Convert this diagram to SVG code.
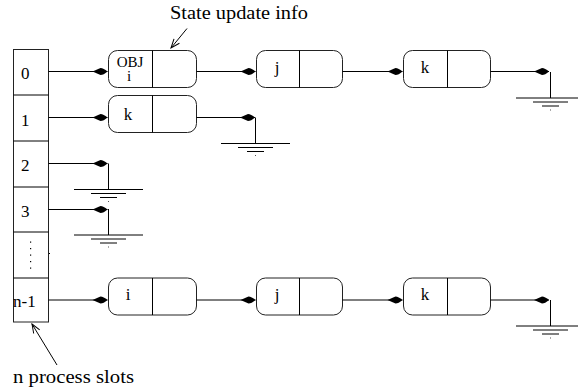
<svg xmlns="http://www.w3.org/2000/svg" width="578" height="390" viewBox="0 0 578 390">
<style>
.ln{stroke:#000;stroke-width:1;fill:none}
.bx{stroke:#222;stroke-width:1;fill:#fff}
.t{font-family:"Liberation Serif","Times New Roman",serif;fill:#000}
.lab{font-size:17px}
.ann{font-size:18px}
</style>
<defs>
<marker id="ah" markerUnits="userSpaceOnUse" viewBox="-16 -5 17 10" refX="0" refY="0" markerWidth="17" markerHeight="10" orient="auto">
<path d="M0,0 Q-4,-3.5 -7,-3.5 L-15,0 L-7,3.5 Q-4,3.5 0,0 Z" fill="#000"/>
</marker>
<marker id="open" markerUnits="userSpaceOnUse" viewBox="-10 -5 11 10" refX="0" refY="0" markerWidth="11" markerHeight="10" orient="auto">
<path d="M-9,-3.5 L0,0 L-9,3.5" fill="none" stroke="#000" stroke-width="1"/>
</marker>
<g id="gnd">
<line class="ln" x1="0" y1="0" x2="0" y2="26"/>
<line class="ln" x1="-34.5" y1="26" x2="34.5" y2="26"/>
<line class="ln" x1="-17.5" y1="30" x2="17.5" y2="30"/>
<line class="ln" x1="-8.5" y1="34" x2="8.5" y2="34"/>
<rect x="-0.5" y="37.5" width="1" height="1" fill="#555"/>
</g>
</defs>

<g id="slots">
<rect class="bx" x="13.5" y="49.5" width="35" height="272.5"/>
<line class="ln" x1="13.5" y1="95" x2="48.5" y2="95"/>
<line class="ln" x1="13.5" y1="141" x2="48.5" y2="141"/>
<line class="ln" x1="13.5" y1="187" x2="48.5" y2="187"/>
<line class="ln" x1="13.5" y1="232" x2="48.5" y2="232"/>
<line class="ln" x1="13.5" y1="278" x2="48.5" y2="278"/>
<text class="t lab" x="21" y="79">0</text>
<text class="t lab" x="21" y="126">1</text>
<text class="t lab" x="21" y="171">2</text>
<text class="t lab" x="21" y="217">3</text>
<g fill="#000">
<rect x="30" y="241.5" width="1.2" height="1.2"/>
<rect x="30" y="248" width="1.2" height="1.2"/>
<rect x="30" y="254.5" width="1.2" height="1.2"/>
<rect x="30" y="261" width="1.2" height="1.2"/>
<rect x="30" y="267.5" width="1.2" height="1.2"/>
<rect x="49" y="253" width="1" height="1"/>
</g>
<text class="t lab" x="13" y="307">n-1</text>
</g>

<g id="n0a">
<rect class="bx" x="108.5" y="50.5" width="88" height="37" rx="9"/>
<line class="ln" x1="152.5" y1="50.5" x2="152.5" y2="87.5"/>
<text class="t" font-size="15" x="130" y="66.5" text-anchor="middle">OBJ</text>
<text class="t" font-size="15" x="129" y="81" text-anchor="middle">i</text>
</g>
<g id="n0b">
<rect class="bx" x="256.5" y="50.5" width="86" height="37" rx="9"/>
<line class="ln" x1="299.5" y1="50.5" x2="299.5" y2="87.5"/>
<text class="t lab" x="277" y="73" text-anchor="middle">j</text>
</g>
<g id="n0c">
<rect class="bx" x="403.5" y="50.5" width="87" height="37" rx="9"/>
<line class="ln" x1="447.5" y1="50.5" x2="447.5" y2="87.5"/>
<text class="t lab" x="425" y="73" text-anchor="middle">k</text>
</g>
<g id="n1a">
<rect class="bx" x="108.5" y="95.5" width="88" height="37" rx="9"/>
<line class="ln" x1="152.5" y1="95.5" x2="152.5" y2="132.5"/>
<text class="t lab" x="128" y="120" text-anchor="middle">k</text>
</g>
<g id="nLa">
<rect class="bx" x="108.5" y="278" width="88" height="37" rx="9"/>
<line class="ln" x1="152.5" y1="278" x2="152.5" y2="315"/>
<text class="t lab" x="128" y="300" text-anchor="middle">i</text>
</g>
<g id="nLb">
<rect class="bx" x="256.5" y="278" width="86" height="37" rx="9"/>
<line class="ln" x1="299.5" y1="278" x2="299.5" y2="315"/>
<text class="t lab" x="277" y="300" text-anchor="middle">j</text>
</g>
<g id="nLc">
<rect class="bx" x="403.5" y="278" width="87" height="37" rx="9"/>
<line class="ln" x1="447.5" y1="278" x2="447.5" y2="315"/>
<text class="t lab" x="425" y="300" text-anchor="middle">k</text>
</g>

<g id="connectors">
<line class="ln" x1="48.5" y1="71.5" x2="107.5" y2="71.5" marker-end="url(#ah)"/>
<line class="ln" x1="196.5" y1="71.5" x2="255.5" y2="71.5" marker-end="url(#ah)"/>
<line class="ln" x1="342.5" y1="71.5" x2="402.5" y2="71.5" marker-end="url(#ah)"/>
<line class="ln" x1="490.5" y1="71.5" x2="549" y2="71.5" marker-end="url(#ah)"/>
<line class="ln" x1="48.5" y1="117.5" x2="107.5" y2="117.5" marker-end="url(#ah)"/>
<line class="ln" x1="196.5" y1="117.5" x2="255" y2="117.5" marker-end="url(#ah)"/>
<line class="ln" x1="48.5" y1="163.5" x2="107.5" y2="163.5" marker-end="url(#ah)"/>
<line class="ln" x1="48.5" y1="209.5" x2="107.5" y2="209.5" marker-end="url(#ah)"/>
<line class="ln" x1="48.5" y1="300" x2="107.5" y2="300" marker-end="url(#ah)"/>
<line class="ln" x1="196.5" y1="300" x2="255.5" y2="300" marker-end="url(#ah)"/>
<line class="ln" x1="342.5" y1="300" x2="402.5" y2="300" marker-end="url(#ah)"/>
<line class="ln" x1="490.5" y1="300" x2="549" y2="300" marker-end="url(#ah)"/>
<use href="#gnd" x="550.5" y="72"/>
<use href="#gnd" x="255.5" y="117.5"/>
<use href="#gnd" x="108.5" y="163.5"/>
<use href="#gnd" x="108.5" y="209"/>
<use href="#gnd" x="550.5" y="300"/>
<line class="ln" x1="187" y1="28.5" x2="171" y2="48" marker-end="url(#open)"/>
<line class="ln" x1="57" y1="365" x2="32" y2="324" marker-end="url(#open)"/>
</g>

<text class="t ann" x="170" y="19" textLength="138" lengthAdjust="spacingAndGlyphs">State update info</text>
<text class="t ann" x="13" y="383" textLength="121" lengthAdjust="spacingAndGlyphs">n process slots</text>
</svg>
